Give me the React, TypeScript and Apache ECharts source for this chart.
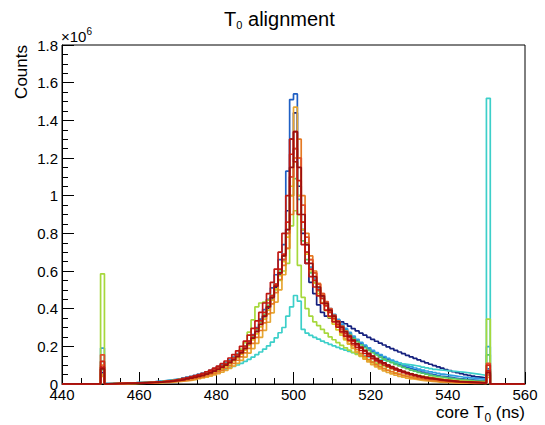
import React, { useEffect, useRef } from "react";
import * as echarts from "echarts";

// Histogram binning (ns): bins are 1 ns wide, first filled bin starts at 450
const binStart = 450;
const binWidth = 1;
const xMin = 440;
const xMax = 560;
const xStep = 20;
const yMin = 0;
const yMax = 1.8;
const yStep = 0.2;

// Counts per bin in units of 10^6, bins 450..550 (101 values each)
const navyCounts = [
  0.06,
  0.002, 0.002, 0.003, 0.003, 0.004, 0.004, 0.005, 0.006, 0.007,
  0.008, 0.009, 0.010, 0.011, 0.013, 0.015, 0.017, 0.019, 0.021, 0.024,
  0.027, 0.030, 0.034, 0.038, 0.043, 0.048, 0.054, 0.061, 0.069, 0.078,
  0.088, 0.099, 0.111, 0.125, 0.140, 0.157, 0.176, 0.198, 0.222, 0.250,
  0.282, 0.318, 0.358, 0.403, 0.452, 0.510, 0.580, 0.660, 0.920, 1.300,
  1.440, 1.050, 0.800, 0.640, 0.540, 0.480, 0.420, 0.380, 0.360, 0.350,
  0.345, 0.338, 0.330, 0.320, 0.307, 0.294, 0.282, 0.270, 0.259, 0.248,
  0.237, 0.227, 0.217, 0.207, 0.197, 0.188, 0.179, 0.170, 0.161, 0.152,
  0.144, 0.136, 0.128, 0.120, 0.112, 0.105, 0.098, 0.091, 0.084, 0.077,
  0.071, 0.065, 0.060, 0.055, 0.050, 0.046, 0.042, 0.038, 0.035, 0.032,
  0.05,
];
const blueCounts = [
  0.05,
  0.001, 0.001, 0.002, 0.002, 0.003, 0.003, 0.004, 0.004, 0.005,
  0.006, 0.007, 0.008, 0.009, 0.010, 0.012, 0.013, 0.015, 0.017, 0.020,
  0.023, 0.026, 0.030, 0.034, 0.039, 0.044, 0.050, 0.057, 0.065, 0.074,
  0.084, 0.095, 0.108, 0.122, 0.138, 0.156, 0.176, 0.200, 0.228, 0.262,
  0.300, 0.345, 0.395, 0.450, 0.510, 0.580, 0.660, 0.740, 1.130, 1.510,
  1.540, 1.000, 0.820, 0.740, 0.620, 0.560, 0.510, 0.466, 0.428, 0.394,
  0.364, 0.337, 0.312, 0.289, 0.268, 0.249, 0.231, 0.215, 0.200, 0.186,
  0.173, 0.161, 0.150, 0.139, 0.129, 0.120, 0.111, 0.103, 0.095, 0.088,
  0.081, 0.075, 0.069, 0.063, 0.058, 0.053, 0.049, 0.045, 0.041, 0.038,
  0.035, 0.032, 0.029, 0.027, 0.025, 0.023, 0.021, 0.019, 0.018, 0.017,
  0.08,
];
const lightBlueCounts = [
  0.19,
  0.002, 0.002, 0.003, 0.003, 0.004, 0.005, 0.005, 0.006, 0.007,
  0.008, 0.009, 0.011, 0.012, 0.014, 0.016, 0.018, 0.020, 0.023, 0.026,
  0.029, 0.033, 0.037, 0.041, 0.046, 0.052, 0.058, 0.065, 0.073, 0.082,
  0.092, 0.103, 0.115, 0.129, 0.144, 0.161, 0.180, 0.202, 0.227, 0.255,
  0.287, 0.323, 0.364, 0.410, 0.460, 0.520, 0.590, 0.680, 0.820, 1.100,
  1.250, 0.980, 0.820, 0.700, 0.620, 0.560, 0.512, 0.470, 0.433, 0.400,
  0.370, 0.343, 0.318, 0.295, 0.274, 0.255, 0.237, 0.221, 0.206, 0.192,
  0.179, 0.167, 0.156, 0.146, 0.136, 0.127, 0.119, 0.111, 0.104, 0.097,
  0.091, 0.085, 0.079, 0.074, 0.069, 0.064, 0.060, 0.056, 0.052, 0.049,
  0.046, 0.043, 0.040, 0.037, 0.035, 0.033, 0.031, 0.029, 0.027, 0.025,
  0.198,
];
const cyanCounts = [
  0.12,
  0.002, 0.002, 0.003, 0.003, 0.004, 0.004, 0.005, 0.006, 0.007,
  0.008, 0.009, 0.010, 0.012, 0.013, 0.015, 0.017, 0.019, 0.021, 0.024,
  0.027, 0.030, 0.033, 0.036, 0.040, 0.044, 0.048, 0.052, 0.057, 0.062,
  0.067, 0.073, 0.079, 0.086, 0.093, 0.101, 0.110, 0.120, 0.131, 0.143,
  0.156, 0.170, 0.185, 0.202, 0.222, 0.245, 0.272, 0.300, 0.360, 0.410,
  0.470, 0.440, 0.290, 0.270, 0.258, 0.248, 0.238, 0.228, 0.219, 0.210,
  0.202, 0.194, 0.187, 0.180, 0.173, 0.166, 0.160, 0.154, 0.149, 0.144,
  0.139, 0.134, 0.130, 0.126, 0.122, 0.118, 0.114, 0.110, 0.106, 0.103,
  0.100, 0.097, 0.094, 0.090, 0.086, 0.082, 0.078, 0.075, 0.073, 0.071,
  0.069, 0.067, 0.065, 0.063, 0.061, 0.058, 0.055, 0.052, 0.049, 0.046,
  1.517,
];
const greenCounts = [
  0.075,
  0.001, 0.001, 0.002, 0.002, 0.003, 0.003, 0.004, 0.005, 0.005,
  0.006, 0.007, 0.008, 0.009, 0.011, 0.012, 0.014, 0.016, 0.018, 0.021,
  0.024, 0.027, 0.031, 0.035, 0.040, 0.045, 0.051, 0.058, 0.066, 0.075,
  0.085, 0.096, 0.109, 0.123, 0.139, 0.157, 0.177, 0.200, 0.226, 0.256,
  0.290, 0.328, 0.370, 0.418, 0.470, 0.530, 0.600, 0.680, 0.800, 1.000,
  1.090, 0.900, 0.760, 0.660, 0.590, 0.540, 0.495, 0.455, 0.420, 0.388,
  0.358, 0.331, 0.306, 0.283, 0.262, 0.243, 0.225, 0.208, 0.193, 0.179,
  0.166, 0.154, 0.143, 0.132, 0.122, 0.113, 0.104, 0.096, 0.088, 0.081,
  0.074, 0.068, 0.062, 0.057, 0.052, 0.047, 0.043, 0.039, 0.036, 0.033,
  0.030, 0.027, 0.025, 0.023, 0.021, 0.019, 0.017, 0.016, 0.015, 0.014,
  0.155,
];
const limeCounts = [
  0.585,
  0.001, 0.002, 0.002, 0.003, 0.003, 0.004, 0.004, 0.005, 0.006,
  0.007, 0.008, 0.009, 0.010, 0.012, 0.013, 0.015, 0.017, 0.020, 0.023,
  0.026, 0.029, 0.033, 0.037, 0.041, 0.045, 0.050, 0.055, 0.060, 0.065,
  0.070, 0.080, 0.095, 0.110, 0.130, 0.155, 0.185, 0.220, 0.275, 0.340,
  0.410, 0.430, 0.435, 0.445, 0.470, 0.500, 0.550, 0.600, 0.640, 0.840,
  0.920, 0.630, 0.460, 0.400, 0.360, 0.330, 0.310, 0.290, 0.270, 0.250,
  0.235, 0.220, 0.205, 0.192, 0.180, 0.168, 0.157, 0.147, 0.137, 0.128,
  0.119, 0.111, 0.103, 0.096, 0.089, 0.082, 0.076, 0.070, 0.065, 0.060,
  0.055, 0.050, 0.046, 0.042, 0.038, 0.035, 0.032, 0.029, 0.026, 0.024,
  0.022, 0.020, 0.018, 0.016, 0.015, 0.014, 0.013, 0.012, 0.011, 0.010,
  0.345,
];
const yellowCounts = [
  0.05,
  0.001, 0.001, 0.001, 0.002, 0.002, 0.002, 0.003, 0.003, 0.004,
  0.004, 0.005, 0.006, 0.007, 0.008, 0.009, 0.010, 0.012, 0.014, 0.016,
  0.018, 0.021, 0.024, 0.028, 0.032, 0.037, 0.042, 0.048, 0.055, 0.063,
  0.072, 0.082, 0.094, 0.107, 0.122, 0.139, 0.158, 0.180, 0.205, 0.234,
  0.266, 0.303, 0.345, 0.392, 0.445, 0.505, 0.575, 0.650, 0.780, 1.050,
  1.180, 1.000, 0.820, 0.690, 0.600, 0.535, 0.480, 0.432, 0.390, 0.352,
  0.318, 0.287, 0.259, 0.234, 0.211, 0.190, 0.171, 0.154, 0.139, 0.125,
  0.112, 0.101, 0.091, 0.082, 0.073, 0.066, 0.059, 0.053, 0.047, 0.042,
  0.038, 0.034, 0.030, 0.027, 0.024, 0.021, 0.019, 0.017, 0.015, 0.013,
  0.012, 0.011, 0.010, 0.009, 0.008, 0.007, 0.006, 0.006, 0.005, 0.005,
  0.07,
];
const goldCounts = [
  0.04,
  0.000, 0.001, 0.001, 0.001, 0.001, 0.002, 0.002, 0.002, 0.003,
  0.003, 0.004, 0.004, 0.005, 0.006, 0.007, 0.008, 0.009, 0.010, 0.012,
  0.014, 0.016, 0.018, 0.021, 0.024, 0.028, 0.032, 0.037, 0.042, 0.048,
  0.055, 0.063, 0.072, 0.083, 0.095, 0.109, 0.125, 0.143, 0.164, 0.188,
  0.216, 0.248, 0.285, 0.328, 0.378, 0.435, 0.500, 0.580, 0.720, 1.000,
  1.470, 1.200, 0.860, 0.750, 0.660, 0.590, 0.530, 0.475, 0.425, 0.380,
  0.340, 0.303, 0.270, 0.240, 0.213, 0.189, 0.168, 0.149, 0.132, 0.117,
  0.103, 0.091, 0.080, 0.070, 0.062, 0.054, 0.047, 0.041, 0.036, 0.031,
  0.027, 0.024, 0.021, 0.018, 0.016, 0.014, 0.012, 0.010, 0.009, 0.008,
  0.007, 0.006, 0.005, 0.005, 0.004, 0.004, 0.003, 0.003, 0.003, 0.002,
  0.035,
];
const orangeCounts = [
  0.10,
  0.000, 0.001, 0.001, 0.001, 0.002, 0.002, 0.002, 0.003, 0.003,
  0.004, 0.004, 0.005, 0.006, 0.007, 0.008, 0.009, 0.010, 0.012, 0.014,
  0.016, 0.018, 0.021, 0.024, 0.028, 0.032, 0.037, 0.043, 0.049, 0.056,
  0.064, 0.073, 0.084, 0.096, 0.110, 0.126, 0.144, 0.165, 0.189, 0.216,
  0.248, 0.284, 0.325, 0.372, 0.425, 0.485, 0.555, 0.630, 0.720, 0.900,
  1.200, 1.300, 1.000, 0.800, 0.680, 0.600, 0.535, 0.480, 0.430, 0.387,
  0.348, 0.313, 0.281, 0.252, 0.226, 0.203, 0.182, 0.163, 0.146, 0.130,
  0.116, 0.103, 0.092, 0.082, 0.073, 0.065, 0.057, 0.051, 0.045, 0.040,
  0.035, 0.031, 0.027, 0.024, 0.021, 0.018, 0.016, 0.014, 0.012, 0.011,
  0.010, 0.009, 0.008, 0.007, 0.006, 0.005, 0.005, 0.004, 0.004, 0.003,
  0.05,
];
const redOrangeCounts = [
  0.155,
  0.001, 0.001, 0.002, 0.002, 0.002, 0.003, 0.003, 0.004, 0.005,
  0.005, 0.006, 0.007, 0.008, 0.009, 0.011, 0.012, 0.014, 0.016, 0.018,
  0.021, 0.024, 0.028, 0.032, 0.036, 0.041, 0.047, 0.053, 0.061, 0.069,
  0.079, 0.090, 0.102, 0.116, 0.131, 0.148, 0.168, 0.190, 0.216, 0.246,
  0.280, 0.318, 0.362, 0.410, 0.460, 0.520, 0.590, 0.660, 0.800, 1.100,
  1.250, 1.200, 0.950, 0.780, 0.660, 0.590, 0.530, 0.480, 0.438, 0.400,
  0.366, 0.335, 0.307, 0.281, 0.257, 0.235, 0.215, 0.196, 0.179, 0.163,
  0.148, 0.135, 0.122, 0.111, 0.100, 0.091, 0.082, 0.074, 0.066, 0.059,
  0.053, 0.047, 0.042, 0.037, 0.033, 0.029, 0.026, 0.023, 0.020, 0.018,
  0.016, 0.014, 0.012, 0.011, 0.010, 0.009, 0.008, 0.007, 0.006, 0.005,
  0.11,
];
const redCounts = [
  0.12,
  0.001, 0.001, 0.002, 0.002, 0.003, 0.003, 0.004, 0.004, 0.005,
  0.006, 0.007, 0.008, 0.009, 0.010, 0.012, 0.013, 0.015, 0.017, 0.020,
  0.023, 0.026, 0.030, 0.034, 0.039, 0.044, 0.050, 0.057, 0.065, 0.074,
  0.084, 0.095, 0.108, 0.122, 0.138, 0.156, 0.176, 0.200, 0.228, 0.260,
  0.295, 0.335, 0.380, 0.430, 0.470, 0.530, 0.610, 0.690, 0.860, 1.220,
  1.340, 1.080, 0.860, 0.700, 0.610, 0.550, 0.500, 0.455, 0.415, 0.380,
  0.348, 0.318, 0.292, 0.268, 0.246, 0.226, 0.207, 0.190, 0.174, 0.159,
  0.145, 0.132, 0.120, 0.109, 0.099, 0.090, 0.081, 0.073, 0.066, 0.059,
  0.053, 0.048, 0.043, 0.039, 0.035, 0.031, 0.028, 0.025, 0.022, 0.020,
  0.018, 0.016, 0.014, 0.013, 0.012, 0.011, 0.010, 0.009, 0.008, 0.007,
  0.10,
];
const crimsonCounts = [
  0.09,
  0.001, 0.002, 0.002, 0.003, 0.003, 0.004, 0.004, 0.005, 0.006,
  0.007, 0.008, 0.009, 0.010, 0.012, 0.013, 0.015, 0.017, 0.020, 0.023,
  0.026, 0.030, 0.034, 0.039, 0.044, 0.050, 0.057, 0.065, 0.074, 0.084,
  0.095, 0.108, 0.122, 0.138, 0.156, 0.176, 0.200, 0.228, 0.260, 0.295,
  0.335, 0.380, 0.430, 0.480, 0.540, 0.610, 0.700, 0.800, 1.000, 1.300,
  1.180, 0.900, 0.740, 0.640, 0.570, 0.515, 0.468, 0.428, 0.392, 0.360,
  0.330, 0.302, 0.277, 0.254, 0.233, 0.213, 0.195, 0.178, 0.162, 0.148,
  0.135, 0.123, 0.112, 0.101, 0.092, 0.083, 0.075, 0.067, 0.060, 0.054,
  0.048, 0.043, 0.038, 0.034, 0.030, 0.027, 0.024, 0.021, 0.019, 0.017,
  0.015, 0.013, 0.012, 0.011, 0.010, 0.009, 0.008, 0.007, 0.006, 0.005,
  0.07,
];
const darkRedCounts = [
  0.08,
  0.001, 0.001, 0.001, 0.002, 0.002, 0.003, 0.003, 0.004, 0.004,
  0.005, 0.006, 0.007, 0.008, 0.009, 0.010, 0.012, 0.013, 0.015, 0.018,
  0.020, 0.023, 0.027, 0.031, 0.035, 0.040, 0.045, 0.052, 0.059, 0.068,
  0.077, 0.088, 0.100, 0.113, 0.128, 0.145, 0.165, 0.188, 0.214, 0.244,
  0.278, 0.316, 0.360, 0.410, 0.460, 0.520, 0.590, 0.680, 0.820, 1.150,
  1.340, 1.150, 0.900, 0.740, 0.640, 0.570, 0.515, 0.468, 0.428, 0.392,
  0.360, 0.330, 0.302, 0.277, 0.254, 0.233, 0.213, 0.195, 0.178, 0.162,
  0.148, 0.135, 0.123, 0.112, 0.101, 0.092, 0.083, 0.075, 0.067, 0.060,
  0.054, 0.048, 0.043, 0.038, 0.034, 0.030, 0.027, 0.024, 0.021, 0.019,
  0.017, 0.015, 0.013, 0.012, 0.011, 0.010, 0.009, 0.008, 0.007, 0.006,
  0.06,
];

const histograms = [
  { name: "h1", color: "#15207e", values: navyCounts },
  { name: "h2", color: "#1f5fc4", values: blueCounts },
  { name: "h3", color: "#2f9de0", values: lightBlueCounts },
  { name: "h4", color: "#3ccfc9", values: cyanCounts },
  { name: "h5", color: "#52c96c", values: greenCounts },
  { name: "h6", color: "#a6d83c", values: limeCounts },
  { name: "h7", color: "#d8c82a", values: yellowCounts },
  { name: "h8", color: "#e6a632", values: goldCounts },
  { name: "h9", color: "#e57a24", values: orangeCounts },
  { name: "h10", color: "#e0502a", values: redOrangeCounts },
  { name: "h11", color: "#d62416", values: redCounts },
  { name: "h12", color: "#c01812", values: crimsonCounts },
  { name: "h13", color: "#9c0e0e", values: darkRedCounts },
];

const FONT = "Liberation Sans, Arial, Helvetica, sans-serif";

function toStepPoints(values: number[]): number[][] {
  const pts: number[][] = [[xMin, 0]];
  values.forEach((v, i) => pts.push([binStart + i * binWidth, v]));
  pts.push([binStart + values.length * binWidth, 0]);
  pts.push([xMax, 0]);
  return pts;
}

export default function App() {
  const ref = useRef<HTMLDivElement>(null);
  useEffect(() => {
    if (!ref.current) return;
    const chart = echarts.init(ref.current, null, { renderer: "svg" });
    const axisCommon = {
      axisLine: { show: true, lineStyle: { color: "#000", width: 1 } },
      axisTick: { show: true, inside: true, length: 12, lineStyle: { color: "#000", width: 1 } },
      minorTick: { show: true, splitNumber: 4, length: 6, lineStyle: { color: "#000", width: 1 } },
      splitLine: { show: false },
      axisLabel: { color: "#000", fontSize: 15, fontFamily: FONT },
    };
    chart.setOption({
      animation: false,
      backgroundColor: "#fff",
      textStyle: { fontFamily: FONT },
      grid: {
        left: 62,
        right: 20,
        top: 45,
        bottom: 41,
        show: true,
        borderColor: "#000",
        borderWidth: 1,
        containLabel: false,
      },
      xAxis: {
        type: "value",
        min: xMin,
        max: xMax,
        interval: xStep,
        ...axisCommon,
        axisLabel: { ...axisCommon.axisLabel, margin: 3 },
      },
      yAxis: {
        type: "value",
        min: yMin,
        max: yMax,
        interval: yStep,
        ...axisCommon,
        axisLabel: {
          ...axisCommon.axisLabel,
          margin: 4,
          formatter: (v: number) => String(Math.round(v * 10) / 10),
        },
      },
      series: histograms.map((h) => ({
        name: h.name,
        type: "line",
        step: "end",
        symbol: "none",
        silent: true,
        clip: true,
        lineStyle: { color: h.color, width: 1.7 },
        data: toStepPoints(h.values),
      })),
      graphic: [
        { type: "text", left: 224, top: 9, style: { text: "T", font: `20px ${FONT}`, fill: "#000" } },
        { type: "text", left: 236.3, top: 19, style: { text: "0", font: `11px ${FONT}`, fill: "#000" } },
        { type: "text", left: 242.5, top: 9, style: { text: " alignment", font: `20px ${FONT}`, fill: "#000" } },
        {
          type: "text",
          x: 21.5,
          y: 45,
          rotation: Math.PI / 2,
          style: { text: "Counts", font: `17px ${FONT}`, fill: "#000", align: "right", verticalAlign: "middle" },
        },
        { type: "text", left: 61, top: 29, style: { text: "\u00d710", font: `15px ${FONT}`, fill: "#000" } },
        { type: "text", left: 86.5, top: 26, style: { text: "6", font: `10px ${FONT}`, fill: "#000" } },
        { type: "text", left: 436, top: 404, style: { text: "core T", font: `17px ${FONT}`, fill: "#000" } },
        { type: "text", left: 484.5, top: 412, style: { text: "0", font: `12px ${FONT}`, fill: "#000" } },
        { type: "text", left: 491, top: 404, style: { text: " (ns)", font: `17px ${FONT}`, fill: "#000" } },
      ],
    });
    return () => chart.dispose();
  }, []);
  return (
    <div
      ref={ref}
      style={{ position: "fixed", left: 0, top: 0, width: 545, height: 425 }}
    />
  );
}
